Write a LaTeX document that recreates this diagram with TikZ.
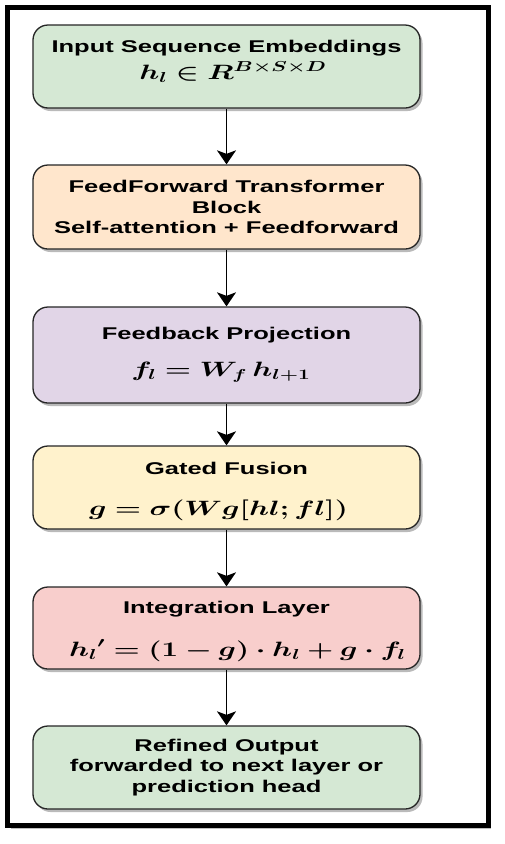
\documentclass[tikz,border=0pt]{standalone}
\usepackage{fontspec}
\usepackage{amsmath,bm}
\usepackage{graphicx}
\setmainfont{Liberation Sans}[FakeStretch=1.5]
\usetikzlibrary{arrows.meta,shadows}
\definecolor{cgreen}{HTML}{D5E8D4}
\definecolor{cpeach}{HTML}{FFE6CC}
\definecolor{cpurple}{HTML}{E1D5E7}
\definecolor{cyellow}{HTML}{FFF2CC}
\definecolor{cpink}{HTML}{F8CECC}
\newcommand{\eqn}[1]{\scalebox{1.45}[1]{$\bm{#1}$}}
\tikzset{
  stagebox/.style={draw=black!85, line width=1.3pt, rounded corners=15pt,
    minimum width=387pt, align=center, inner sep=0pt,
    font=\fontsize{17}{20.5}\selectfont\bfseries,
    drop shadow={shadow xshift=2.5pt, shadow yshift=-3pt, opacity=0.45, fill=black!60}},
  titletext/.style={font=\fontsize{17}{20.5}\selectfont\bfseries},
  mathtext/.style={font=\fontsize{19.5}{22}\selectfont},
  flowarrow/.style={line width=1.5pt, -{Stealth[length=14pt,width=19pt,inset=3.5pt]}}
}
\begin{document}
\begin{tikzpicture}[x=1pt,y=-1pt]
\useasboundingbox (0,0) rectangle (504,844);
\fill[white] (0,0) rectangle (504,844);
% outer frame
\draw[line width=5pt, fill=white, drop shadow={shadow xshift=3pt, shadow yshift=-4pt, opacity=0.5, fill=black!50}] (7.5,7.5) rectangle (488,825);
% boxes
\node[stagebox, fill=cgreen, minimum height=83pt] (b1) at (226.5,66.5) {};
\node[titletext] (t1) at (226.5,48) {Input Sequence Embeddings};
\node[mathtext] (m1) at (233,72) {\eqn{h_l \in R^{B\times S\times D}}};

\node[stagebox, fill=cpeach, minimum height=84pt] (b2) at (226.5,207) {FeedForward Transformer\\Block\\Self-attention + Feedforward};

\node[stagebox, fill=cpurple, minimum height=96pt] (b3) at (226.5,355) {};
\node[titletext] (t3) at (226.5,335) {Feedback Projection};
\node[mathtext] (m3) at (221,372) {\eqn{f_l = W_f\, h_{l+1}}};

\node[stagebox, fill=cyellow, minimum height=83pt] (b4) at (226.5,487.5) {};
\node[titletext] (t4) at (226.5,468) {Gated Fusion};
\node[mathtext] (m4) at (218.5,510) {\eqn{g = \sigma(W g[hl; fl])}};

\node[stagebox, fill=cpink, minimum height=82pt] (b5) at (226.5,628) {};
\node[titletext] (t5) at (226.5,609) {Integration Layer};
\node[mathtext] (m5) at (237.5,651) {\eqn{{h_l}' = (1-g)\cdot h_l + g\cdot f_l}};

\node[stagebox, fill=cgreen, minimum height=83pt] (b6) at (226.5,767.5) {Refined Output\\forwarded to next layer or\\prediction head};

% arrows
\draw[flowarrow] (b1.south) -- (b2.north);
\draw[flowarrow] (b2.south) -- (b3.north);
\draw[flowarrow] (b3.south) -- (b4.north);
\draw[flowarrow] (b4.south) -- (b5.north);
\draw[flowarrow] (b5.south) -- (b6.north);
\end{tikzpicture}
\end{document}
